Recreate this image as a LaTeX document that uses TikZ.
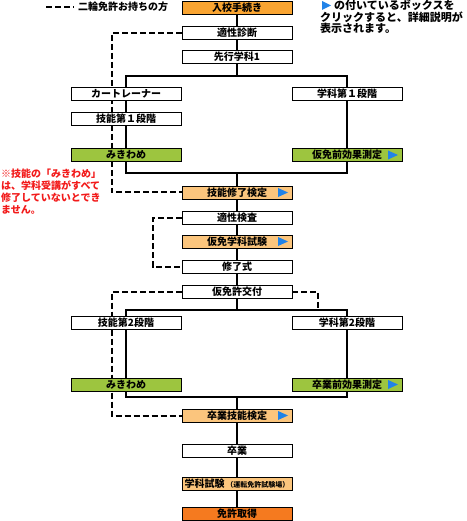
\documentclass[tikz,border=0pt]{standalone}
\usepackage{xcolor}
\usepackage{fontspec}
\setmainfont{Noto Sans CJK JP}
\usepackage{tikz}
\usetikzlibrary{backgrounds}

\definecolor{nyukoorange}{HTML}{F9A431}
\definecolor{paleorange}{HTML}{FBC57D}
\definecolor{mikigreen}{HTML}{9DC53F}
\definecolor{menkyoorange}{HTML}{F57A1F}
\definecolor{linkblue}{HTML}{2183E8}
\definecolor{notered}{HTML}{F21A1A}

\begin{document}
\begin{tikzpicture}[x=1pt, y=-1pt,
   every node/.style={font=\fontsize{10}{12}\selectfont\bfseries, inner sep=0pt},
   box/.style={draw, line width=0.8pt, minimum width=110pt, minimum height=13pt, fill=white},
   linkbox/.style={box, path picture={\fill[linkblue] ([xshift=-14pt,yshift=4.5pt]path picture bounding box.east) -- ([xshift=-4pt]path picture bounding box.east) -- ([xshift=-14pt,yshift=-4.5pt]path picture bounding box.east) -- cycle;}},
   flow/.style={line width=2.2pt},
   nirin/.style={line width=2pt, dash pattern=on 6pt off 3pt}]
   \useasboundingbox (0,0) rectangle (466,521);

   % legend and notes
   \coordinate (lgA) at (46,7);
   \coordinate (lgB) at (74,7);
   \node[anchor=west] (legend) at (78,7) {二輪免許お持ちの方};
   \draw[nirin] (lgA) -- (lgB);

   \node[anchor=north west, align=left, font=\fontsize{11}{11.5}\selectfont\bfseries] (hint) at (320,0) {\hspace{14pt}の付いているボックスを\\クリックすると、詳細説明が\\表示されます。};
   \fill[linkblue] (322,1) -- (331,5.5) -- (322,10) -- cycle;

   \node[anchor=north west, align=left, text=notered] (note) at (1,169) {※技能の「みきわめ」\\は、学科受講がすべて\\修了していないとでき\\ません。};

   % center column
   \node[box, fill=nyukoorange] (nyuko) at (237,7.5) {入校手続き};
   \node[box] (tekisei) at (237,33) {適性診断};
   \node[box] (senko) at (237,56.5) {先行学科1};
   \node[linkbox, fill=paleorange] (ginokentei) at (237,192.5) {技能修了検定};
   \node[box] (tekikensa) at (237,218) {適性検査};
   \node[linkbox, fill=paleorange] (karigaku) at (237,241.5) {仮免学科試験};
   \node[box] (shuryo) at (237,266.5) {修了式};
   \node[box] (karimen) at (237,291.5) {仮免許交付};
   \node[linkbox, fill=paleorange] (sotsukentei) at (237,415.5) {卒業技能検定};
   \node[box] (sotsugyo) at (237,450.5) {卒業};
   \node[box, fill=paleorange] (gakushiken) at (237,483.5) {学科試験\,{\fontsize{7}{8}\selectfont（運転免許試験場）}};
   \node[box, fill=menkyoorange] (menkyo) at (237,513.5) {免許取得};

   % first stage
   \node[box] (cart) at (126,93.5) {カートレーナー};
   \node[box] (gino1) at (126,118.5) {技能第１段階};
   \node[box, fill=mikigreen] (miki1) at (126,155) {みきわめ};
   \node[box] (gaku1) at (347,93.5) {学科第１段階};
   \node[linkbox, fill=mikigreen] (sokutei1) at (347,155) {仮免前効果測定};

   % second stage
   \node[box] (gino2) at (126,322.5) {技能第2段階};
   \node[box, fill=mikigreen] (miki2) at (126,384.5) {みきわめ};
   \node[box] (gaku2) at (347,322.5) {学科第2段階};
   \node[linkbox, fill=mikigreen] (sokutei2) at (347,384.5) {卒業前効果測定};

   \coordinate (j1) at (237,76);
   \coordinate (j2) at (237,173);
   \coordinate (j3) at (237,310);
   \coordinate (j4) at (237,397);
   \coordinate (d4) at (318,310);

   % main flow
   \draw[flow] (nyuko) -- (tekisei);
   \draw[flow] (tekisei) -- (senko);
   \draw[flow] (senko) -- (j1);
   \draw[flow] (cart.north) |- (j1) -| (gaku1.north);
   \draw[flow] (cart) -- (gino1);
   \draw[flow] (gino1) -- (miki1);
   \draw[flow] (gaku1) -- (sokutei1);
   \draw[flow] (miki1.south) |- (j2) -| (sokutei1.south);
   \draw[flow] (j2) -- (ginokentei);
   \draw[flow] (ginokentei) -- (tekikensa);
   \draw[flow] (tekikensa) -- (karigaku);
   \draw[flow] (karigaku) -- (shuryo);
   \draw[flow] (shuryo) -- (karimen);
   \draw[flow] (karimen) -- (j3);
   \draw[flow] (gino2.north) |- (j3) -| (gaku2.north);
   \draw[flow] (gino2) -- (miki2);
   \draw[flow] (gaku2) -- (sokutei2);
   \draw[flow] (miki2.south) |- (j4) -| (sokutei2.south);
   \draw[flow] (j4) -- (sotsukentei);
   \draw[flow] (sotsukentei) -- (sotsugyo);
   \draw[flow] (sotsugyo) -- (gakushiken);
   \draw[flow] (gakushiken) -- (menkyo);

   % nirin route (behind the boxes)
   \begin{scope}[on background layer]
   \draw[nirin] (tekisei.west) -- ++(-70,0) |- (ginokentei.west);
   \draw[nirin] (tekikensa.west) -- ++(-29,0) |- (shuryo.west);
   \draw[nirin] (karimen.west) -- ++(-70,0) |- (sotsukentei.west);
   \draw[nirin] (karimen.east) -| (d4);
   \end{scope}
\end{tikzpicture}
\end{document}
